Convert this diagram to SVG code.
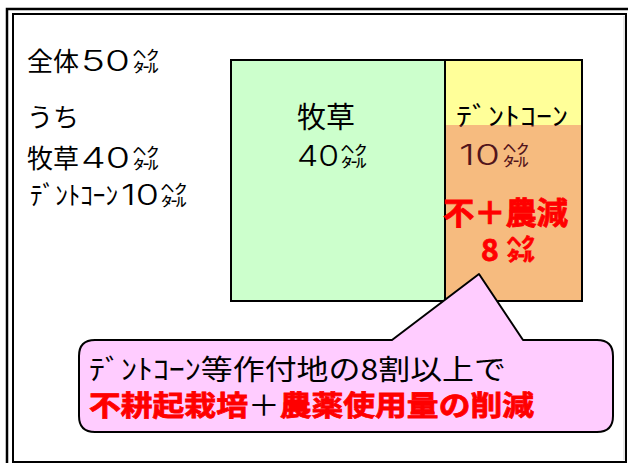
<svg xmlns="http://www.w3.org/2000/svg" width="628" height="463" viewBox="0 0 628 463">
<style>
  text { font-family: "Noto Sans CJK JP", "Noto Sans", sans-serif; fill: #000; }
  .lbl { font-size: 26px; }
  .num { font-family: Inter, "Open Sans", "Noto Sans", sans-serif; font-weight: 300; font-size: 29px; }
  .big { font-size: 28px; }
  .red { fill: #ff0000; font-weight: 700; stroke: #ff0000; stroke-width: 0.8; }
  .frame { fill: none; stroke: #000; }
  .box { stroke: #000; stroke-width: 2; }
</style>
<rect width="628" height="463" fill="#fff"/>
<g id="frame">
  <rect class="frame" x="7" y="9" width="640" height="480" stroke-width="2.5"/>
  <rect class="frame" x="13" y="14" width="613" height="448" stroke-width="2"/>
  <line x1="624" y1="16" x2="624" y2="460" stroke="#d0d0d0" stroke-width="1"/>
</g>
<g id="summary">
  <text class="lbl" x="27" y="71">全体</text>
  <text class="num" x="81" y="71" textLength="49" lengthAdjust="spacingAndGlyphs">50</text>
  <text class="lbl" x="133" y="71">㌶</text>
  <text class="lbl" x="27" y="127">うち</text>
  <text class="lbl" x="27" y="168">牧草</text>
  <text class="num" x="81" y="168" textLength="49" lengthAdjust="spacingAndGlyphs">40</text>
  <text class="lbl" x="133" y="168">㌶</text>
  <text class="lbl" x="30" y="205" textLength="88" lengthAdjust="spacingAndGlyphs">ﾃﾞﾝﾄｺｰﾝ</text>
  <text class="num" x="121" y="205" textLength="38" lengthAdjust="spacingAndGlyphs">10</text>
  <text class="lbl" x="161" y="205">㌶</text>
</g>
<g id="pasture">
  <rect class="box" x="231" y="60" width="214" height="241" fill="#ccffcc"/>
  <text x="326" y="128" font-size="29" text-anchor="middle">牧草</text>
  <text class="num" x="297" y="166" textLength="42" lengthAdjust="spacingAndGlyphs">40</text>
  <text class="lbl" x="341" y="166">㌶</text>
</g>
<g id="corn">
  <rect x="445" y="60" width="137" height="241" fill="#ffff99"/>
  <text class="lbl" x="456" y="126" textLength="112" lengthAdjust="spacingAndGlyphs">ﾃﾞﾝﾄｺｰﾝ</text>
  <text class="num" x="459" y="165" textLength="41" lengthAdjust="spacingAndGlyphs">10</text>
  <text class="lbl" x="503" y="165">㌶</text>
  <rect x="445" y="125" width="137" height="176" fill="rgb(228,60,80)" fill-opacity="0.35"/>
  <rect x="445" y="60" width="137" height="241" fill="none" class="box"/>
</g>
<g id="reduced">
  <text class="red" x="443" y="224" font-size="31" stroke-width="1.5" textLength="125" lengthAdjust="spacingAndGlyphs">不＋農減</text>
  <text class="red" x="481" y="261" font-size="30" stroke-width="1.5">8</text>
  <text class="red" x="507" y="260" font-size="28" stroke-width="1.2">㌶</text>
</g>
<g id="connectors"></g>
<g id="callout">
  <path d="M95,340 L392,340 L479,274 L523,340 L597,340 Q613,340 613,356 L613,416 Q613,432 597,432 L95,432 Q79,432 79,416 L79,356 Q79,340 95,340 Z" fill="#ffccff" stroke="#000" stroke-width="2" stroke-linejoin="round"/>
  <text class="big" x="89" y="380" textLength="417" lengthAdjust="spacingAndGlyphs">ﾃﾞﾝﾄｺｰﾝ等作付地の8割以上で</text>
  <text class="big" x="89" y="416" textLength="445" lengthAdjust="spacingAndGlyphs"><tspan class="red">不耕起栽培</tspan>＋<tspan class="red">農薬使用量の削減</tspan></text>
</g>
</svg>
